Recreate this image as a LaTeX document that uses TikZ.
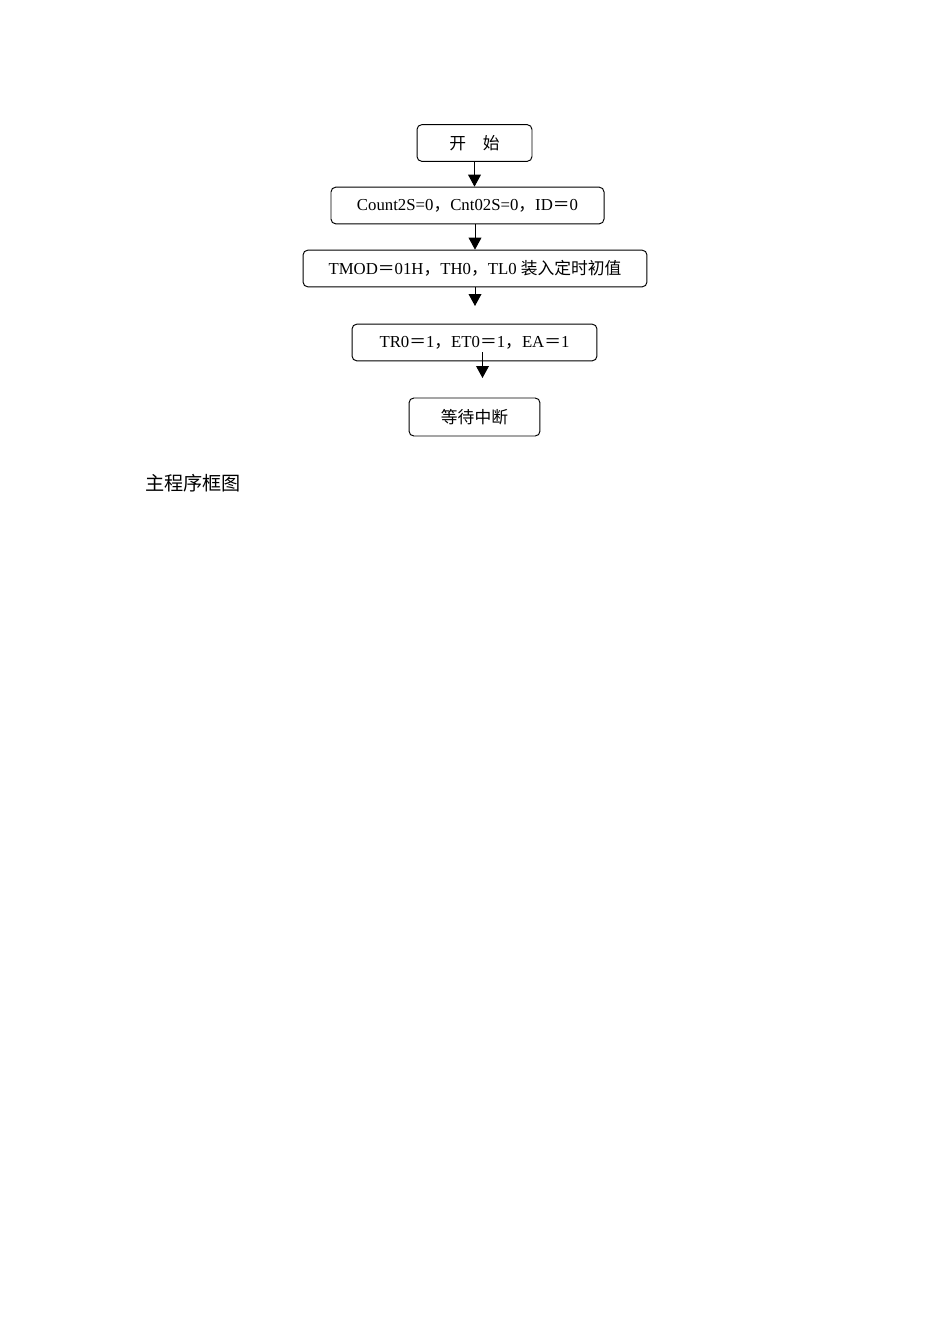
\documentclass[tikz,border=0pt]{standalone}
\usepackage{fontspec}
\setmainfont{Liberation Serif}
\newfontfamily\cjk{Noto Sans CJK SC}
\usetikzlibrary{arrows.meta}
\newcommand{\zh}[1]{{\cjk #1}}
\begin{document}
\begin{tikzpicture}[x=0.6263pt,y=-0.6263pt,
        box/.style={draw,rounded corners=3pt,line width=0.6pt,inner sep=0pt,
            minimum height=23pt,font=\fontsize{10.5}{12}\selectfont},
        flow/.style={line width=0.6pt,-{Triangle[width=8pt,length=7.5pt]}}]
    \useasboundingbox (0,0) rectangle (950,1344);
    \node[box,minimum width=72pt] (start) at (474.5,143) {\zh{开　始}};
    \node[box,minimum width=171pt] (init) at (467.5,205.5)
        {Count2S=0\zh{，}Cnt02S=0\zh{，}ID\zh{＝}0};
    \node[box,minimum width=215.4pt] (tmod) at (475,268.5)
        {TMOD\zh{＝}01H\zh{，}TH0\zh{，}TL0 \zh{装入定时初值}};
    \node[box,minimum width=153.4pt] (tr) at (474.5,342.5)
        {TR0\zh{＝}1\zh{，}ET0\zh{＝}1\zh{，}EA\zh{＝}1};
    \node[box,minimum width=82pt,minimum height=23.8pt] (wait) at (474.5,417) {\zh{等待中断}};
    \node[anchor=west,inner sep=0pt,font=\fontsize{12}{14}\selectfont] (caption) at (145,483) {\zh{主程序框图}};
    \coordinate (tip3) at (475,306);
    \coordinate (tail4) at (482.5,352);
    \coordinate (tip4) at (482.5,378);
    \draw[flow] (start.south) -- (start.south |- init.north);
    \draw[flow] (tmod.north |- init.south) -- (tmod.north);
    \draw[flow] (tmod.south) -- (tip3);
    \draw[flow] (tail4) -- (tip4);
\end{tikzpicture}
\end{document}
